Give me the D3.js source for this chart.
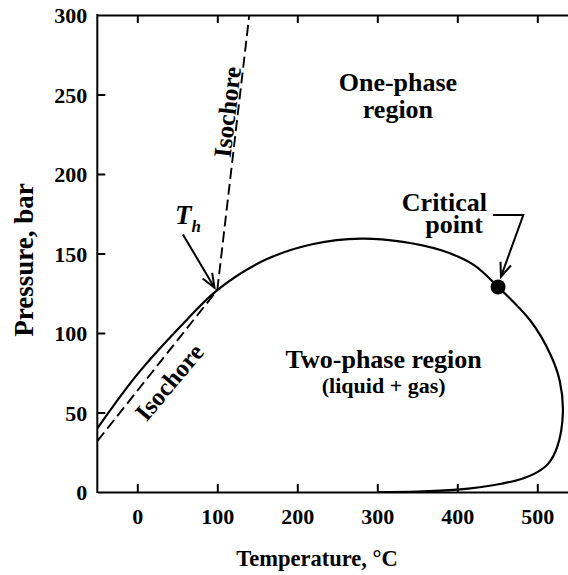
<!DOCTYPE html>
<html><head><meta charset="utf-8">
<script src="https://cdn.jsdelivr.net/npm/d3@7"></script>
<style>
body{margin:0;background:#fff}
svg text{font-family:"Liberation Serif","Times New Roman",serif;font-weight:bold;fill:#000}
</style>
</head><body>
<svg id="chart" width="568" height="575"></svg>
<script>
// ---- data ----
const xTicks = [0, 100, 200, 300, 400, 500];
const yTicks = [0, 50, 100, 150, 200, 250, 300];
// two-phase boundary (temperature °C, pressure bar), traced along the loop
const boundaryT = [-50, 0, 57.5, 100, 160, 220, 280, 330, 380, 420, 451, 491, 516, 528, 532, 525, 514, 500, 480, 455, 428, 400, 350, 300];
const boundaryP = [40, 74, 106, 127, 146, 156, 159.4, 157.5, 152, 143, 129, 108, 87, 70, 50, 28.5, 18, 12.5, 8.2, 5.2, 3.0, 1.5, 0.3, 0];
// isochores
const isochoreLowT = [-50, 100];
const isochoreLowP = [32, 127];
const isochoreHighT = [100, 140];
const isochoreHighP = [127, 300];
// critical point
const criticalT = 451, criticalP = 129;
// annotation anchor points (data units)
const thArrowT = [57, 96.5], thArrowP = [162, 128.5];
const critLeaderT = [444.5, 482.5, 454.6], critLeaderP = [174.2, 174.2, 135.4];

// ---- layout ----
const svg = d3.select("#chart");
const x = d3.scaleLinear().domain([-50, 550]).range([97.3, 577.3]);
const y = d3.scaleLinear().domain([0, 300]).range([492, 15]);
const FS = 22;

svg.append("clipPath").attr("id", "clip").append("rect")
  .attr("x", x(-50)).attr("y", y(300)).attr("width", x(550) - x(-50)).attr("height", y(0) - y(300));

const plot = svg.append("g").attr("clip-path", "url(#clip)");

// curves
const boundary = boundaryT.map((t, i) => [t, boundaryP[i]]);
plot.append("path").datum(boundary)
  .attr("d", d3.line().x(d => x(d[0])).y(d => y(d[1])).curve(d3.curveCatmullRom.alpha(0.5)))
  .attr("fill", "none").attr("stroke", "#000").attr("stroke-width", 2.2);

const straight = d3.line().x(d => x(d[0])).y(d => y(d[1]));
[[isochoreLowT, isochoreLowP], [isochoreHighT, isochoreHighP]].forEach(([ts, ps]) => {
  plot.append("path").datum(ts.map((t, i) => [t, ps[i]]))
    .attr("d", straight)
    .attr("fill", "none").attr("stroke", "#000").attr("stroke-width", 1.9)
    .attr("stroke-dasharray", "11,5");
});

// critical point
svg.append("circle").attr("cx", x(criticalT)).attr("cy", y(criticalP)).attr("r", 7.5).attr("fill", "#000");

// axes
function styleAxis(g) {
  g.select(".domain").attr("stroke", "#000").attr("stroke-width", 2);
  g.selectAll(".tick line").attr("stroke", "#000").attr("stroke-width", 2);
  g.selectAll(".tick text").attr("font-size", FS).attr("font-family", null);
}
const gb = svg.append("g").attr("transform", `translate(0,${y(0)})`)
  .call(d3.axisBottom(x).tickValues(xTicks).tickSizeInner(-8).tickSizeOuter(0));
styleAxis(gb);
gb.selectAll(".tick text").attr("y", 32).attr("dy", null);

const gt = svg.append("g").attr("transform", `translate(0,${y(300)})`)
  .call(d3.axisTop(x).tickValues(xTicks).tickSizeInner(-8).tickSizeOuter(0).tickFormat(""));
styleAxis(gt);

const gl = svg.append("g").attr("transform", `translate(${x(-50)},0)`)
  .call(d3.axisLeft(y).tickValues(yTicks).tickSizeInner(-8).tickSizeOuter(0).tickPadding(10));
styleAxis(gl);
gl.selectAll(".tick text").attr("dy", "0.35em");
gl.select(".domain").attr("d", `M0,${y(0) + 1}V${y(300) - 1}`);
gl.selectAll(".tick").filter(d => d === 0 || d === 300).select("line").remove();

// axis titles
svg.append("text").attr("x", 317).attr("y", 566).attr("text-anchor", "middle")
  .attr("font-size", 22.5).text("Temperature, °C");
svg.append("text").attr("transform", `translate(33,260) rotate(-90)`)
  .attr("text-anchor", "middle").attr("font-size", 27).text("Pressure, bar");

// region labels
svg.append("text").attr("x", x(325.8)).attr("y", y(252.2)).attr("text-anchor", "middle").attr("font-size", 26).text("One-phase");
svg.append("text").attr("x", x(325.8)).attr("y", y(235)).attr("text-anchor", "middle").attr("font-size", 26).text("region");
svg.append("text").attr("x", x(308)).attr("y", y(78.2)).attr("text-anchor", "middle").attr("font-size", 26).text("Two-phase region");
svg.append("text").attr("x", x(308)).attr("y", y(62.5)).attr("text-anchor", "middle").attr("font-size", 22).text("(liquid + gas)");

// critical point label
svg.append("text").attr("x", 487).attr("y", 210.7).attr("text-anchor", "end").attr("font-size", 26).text("Critical");
svg.append("text").attr("x", 483).attr("y", 232.5).attr("text-anchor", "end").attr("font-size", 26).text("point");

// T_h label
const th = svg.append("text").attr("x", 175).attr("y", 224).attr("font-size", 27).attr("font-style", "italic");
th.append("tspan").text("T");
th.append("tspan").attr("font-size", 17).attr("dy", 8).attr("dx", 0).text("h");

// isochore labels
svg.append("text").attr("transform", "translate(227,112) rotate(-83.4)").attr("text-anchor", "middle")
  .attr("dy", "0.35em").attr("font-size", 25).text("Isochore");
svg.append("text").attr("transform", "translate(169,382) rotate(-50)").attr("text-anchor", "middle")
  .attr("dy", "0.35em").attr("font-size", 25).text("Isochore");

// arrows
function arrow(pts) {
  const p = pts.map(d => [x(d[0]), y(d[1])]);
  svg.append("path").attr("d", d3.line()(p)).attr("fill", "none").attr("stroke", "#000").attr("stroke-width", 2);
  const [a, b] = [p[p.length - 2], p[p.length - 1]];
  const ang = Math.atan2(b[1] - a[1], b[0] - a[0]);
  const L = 15, h = 0.38;
  const head = [[b[0] - L * Math.cos(ang - h), b[1] - L * Math.sin(ang - h)], b, [b[0] - L * Math.cos(ang + h), b[1] - L * Math.sin(ang + h)]];
  svg.append("path").attr("d", d3.line()(head)).attr("fill", "none").attr("stroke", "#000").attr("stroke-width", 2);
}
arrow(thArrowT.map((t, i) => [t, thArrowP[i]]));
arrow(critLeaderT.map((t, i) => [t, critLeaderP[i]]));
</script>
</body></html>
